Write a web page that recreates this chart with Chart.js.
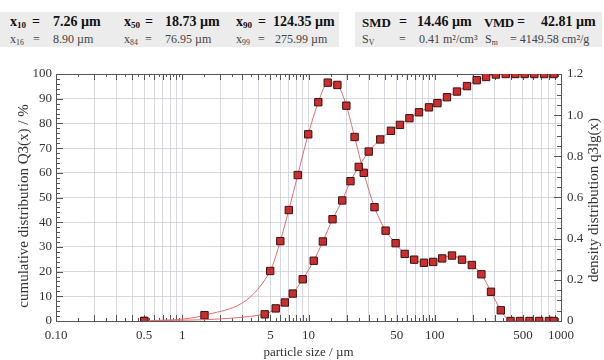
<!DOCTYPE html>
<html>
<head>
<meta charset="utf-8">
<script src="https://cdn.jsdelivr.net/npm/chart.js@4.4.0/dist/chart.umd.min.js"></script>
<style>
  body { margin: 0; background: #fff; }
  #wrap { position: relative; width: 604px; height: 360px; font-family: "Liberation Serif", "Times New Roman", serif; }
  canvas { position: absolute; left: 0; top: 0; }
  .box { position: absolute; top: 12px; height: 35px; background: #ececec; }
  .t { position: absolute; line-height: 1; white-space: nowrap; }
  .r1 { top: 15px; font-size: 14px; font-weight: bold; color: #111; }
  .r2 { top: 33px; font-size: 12px; color: #444; }
  sub { font-size: 0.65em; vertical-align: -0.25em; line-height: 0; }
</style>
</head>
<body>
<div id="wrap">
  <div class="box" style="left:0;width:339px"></div>
  <div class="box" style="left:355px;width:247px"></div>

  <span class="t r1" style="left:10px">x<sub>10</sub></span>
  <span class="t r1" style="left:32px">=</span>
  <span class="t r1" style="left:53px">7.26 µm</span>
  <span class="t r1" style="left:124px">x<sub>50</sub></span>
  <span class="t r1" style="left:145px">=</span>
  <span class="t r1" style="left:165px">18.73 µm</span>
  <span class="t r1" style="left:236px">x<sub>90</sub></span>
  <span class="t r1" style="left:258px">=</span>
  <span class="t r1" style="left:273px">124.35 µm</span>
  <span class="t r1" style="left:362px;font-size:13px;top:16px">SMD</span>
  <span class="t r1" style="left:399px">=</span>
  <span class="t r1" style="left:417px">14.46 µm</span>
  <span class="t r1" style="left:484px;font-size:13px;top:16px;letter-spacing:-0.5px">VMD</span>
  <span class="t r1" style="left:517px">=</span>
  <span class="t r1" style="left:541px">42.81 µm</span>

  <span class="t r2" style="left:10px">x<sub>16</sub></span>
  <span class="t r2" style="left:33px">=</span>
  <span class="t r2" style="left:53px">8.90 µm</span>
  <span class="t r2" style="left:124px">x<sub>84</sub></span>
  <span class="t r2" style="left:145px">=</span>
  <span class="t r2" style="left:165px">76.95 µm</span>
  <span class="t r2" style="left:236px">x<sub>99</sub></span>
  <span class="t r2" style="left:258px">=</span>
  <span class="t r2" style="left:275px">275.99 µm</span>
  <span class="t r2" style="left:362px">S<sub>V</sub></span>
  <span class="t r2" style="left:399px">=</span>
  <span class="t r2" style="left:419px">0.41 m²/cm³</span>
  <span class="t r2" style="left:485px">S<sub>m</sub></span>
  <span class="t r2" style="left:510px">= 4149.58 cm²/g</span>

  <canvas id="chart" width="604" height="360"></canvas>
</div>

<script>
// cumulative distribution Q3(x), upper class limits in µm
const cumSizes = [0.5, 4.5, 5.5, 6.5, 7.5, 9, 11, 13, 15.5, 18.5, 21.5, 25, 30, 37, 45, 53,
  63, 75, 90, 105, 125, 150, 180, 215, 255, 305, 365, 435, 515, 615, 735, 875];
const cumValues = [0, 2.7, 5.1, 7.5, 11.1, 16.9, 24.4, 32.2, 41.2, 48.8, 56.6, 62.4, 68.6, 73.5, 77.0, 79.4,
  82.1, 84.5, 86.5, 88.2, 90.6, 92.9, 95.1, 97.5, 98.8, 99.8, 100, 100, 100, 100, 100, 100];

// density distribution q3lg(x), class centres in µm
const densSizes = [0.5, 1.5, 4.97, 5.98, 6.98, 8.22, 9.95, 11.96, 14.2, 16.93, 19.94, 23.18, 27.39,
  33.32, 40.8, 48.97, 57.78, 68.73, 82.16, 97.21, 114.56, 136.93, 164.32, 196.72, 234.15, 278.88,
  333.65, 398.44, 473.28, 562.74, 672.3, 802.24, 875];
const densValues = [0, 0.028, 0.243, 0.388, 0.539, 0.709, 0.907, 1.063, 1.158, 1.147, 1.046, 0.894, 0.72,
  0.553, 0.439, 0.378, 0.326, 0.298, 0.283, 0.287, 0.304, 0.318, 0.298, 0.272, 0.227, 0.142,
  0.052, 0, 0, 0, 0, 0, 0];

const xTickLabels = [0.1, 0.5, 1, 5, 10, 50, 100, 500, 1000];
const decades = [0.1, 1, 10, 100];

const gridValues = [];
decades.forEach(d => {
  for (let m = 1; m <= 9; m++) gridValues.push(+(m * d).toPrecision(6));
});
gridValues.push(1000);

const font = '"Liberation Serif", "Times New Roman", serif';
const gridColor = 'rgba(200, 200, 212, 0.7)';
const axisColor = '#555';

const frame = {
  id: 'frame',
  beforeDatasetsDraw(chart) {
    const { ctx, chartArea: a, scales } = chart;
    ctx.save();
    ctx.strokeStyle = axisColor;
    ctx.lineWidth = 1;
    ctx.beginPath();
    ctx.moveTo(a.left, a.top + 0.5);
    ctx.lineTo(a.right, a.top + 0.5);
    decades.forEach(d => {
      for (let m = 1; m < 10; m += 0.5) {
        if (m === 1 && d === 0.1) continue;
        const px = Math.round(scales.x.getPixelForValue(m * d)) + 0.5;
        const len = m % 1 ? 3 : 6;
        ctx.moveTo(px, a.bottom);
        ctx.lineTo(px, a.bottom - len);
        ctx.moveTo(px, a.top);
        ctx.lineTo(px, a.top + len);
      }
    });
    for (let v = 2; v < 100; v += 2) {
      const py = Math.round(scales.y.getPixelForValue(v)) + 0.5;
      ctx.moveTo(a.left, py);
      ctx.lineTo(a.left + (v % 10 ? 4 : 7), py);
    }
    for (let i = 1; i < 24; i++) {
      const py = Math.round(scales.y1.getPixelForValue(i * 0.05)) + 0.5;
      ctx.moveTo(a.right, py);
      ctx.lineTo(a.right - (i % 4 ? 4 : 7), py);
    }
    ctx.stroke();
    ctx.restore();
  },
  afterDraw(chart) {
    const { ctx } = chart;
    ctx.save();
    ctx.fillStyle = '#333';
    ctx.font = '15px ' + font;
    ctx.textAlign = 'center';
    ctx.textBaseline = 'middle';
    ctx.translate(24, 206);
    ctx.rotate(-Math.PI / 2);
    ctx.fillText('cumulative distribution Q3(x) / %', 0, 0);
    ctx.restore();
    ctx.save();
    ctx.fillStyle = '#333';
    ctx.font = '15px ' + font;
    ctx.textAlign = 'center';
    ctx.textBaseline = 'middle';
    ctx.translate(594, 200);
    ctx.rotate(-Math.PI / 2);
    ctx.fillText('density distribution q3lg(x)', 0, 0);
    ctx.restore();
  }
};

const seriesStyle = {
  borderColor: 'rgb(226, 110, 110)',
  borderWidth: 1,
  pointStyle: 'rect',
  pointRadius: 5.2,
  pointBackgroundColor: 'rgb(205, 45, 45)',
  pointBorderColor: 'rgb(55, 20, 20)',
  pointBorderWidth: 1,
  cubicInterpolationMode: 'monotone',
  fill: false
};

new Chart(document.getElementById('chart'), {
  type: 'line',
  data: {
    datasets: [
      {
        ...seriesStyle,
        label: 'Q3(x)',
        yAxisID: 'y',
        data: cumSizes.map((s, i) => ({ x: s, y: cumValues[i] }))
      },
      {
        ...seriesStyle,
        label: 'q3lg(x)',
        yAxisID: 'y1',
        data: densSizes.map((s, i) => ({ x: s, y: densValues[i] }))
      }
    ]
  },
  options: {
    responsive: false,
    animation: false,
    layout: { padding: { top: 74, left: 0, right: 0, bottom: 0 } },
    plugins: {
      legend: { display: false },
      tooltip: { enabled: false }
    },
    scales: {
      x: {
        type: 'logarithmic',
        min: 0.1,
        max: 1000,
        afterBuildTicks: scale => {
          scale.ticks = gridValues.map(v => ({ value: v }));
        },
        afterFit: scale => { scale.height = 39; },
        ticks: {
          autoSkip: false,
          maxRotation: 0,
          padding: 7,
          color: '#333',
          font: { family: font, size: 13 },
          callback: value => {
            if (!xTickLabels.includes(value)) return '';
            return value === 0.1 ? '0.10' : String(value);
          }
        },
        grid: { color: gridColor, drawTicks: false },
        border: { color: axisColor },
        title: {
          display: true,
          text: 'particle size / µm',
          color: '#333',
          font: { family: font, size: 13 },
          padding: { top: 0, bottom: 0 }
        }
      },
      y: {
        position: 'left',
        min: 0,
        max: 100,
        afterFit: scale => { scale.width = 56; },
        ticks: {
          stepSize: 10,
          padding: 4,
          color: '#333',
          font: { family: font, size: 13 }
        },
        grid: { color: gridColor, drawTicks: false },
        border: { color: axisColor }
      },
      y1: {
        position: 'right',
        min: 0,
        max: 1.2,
        afterFit: scale => { scale.width = 43; },
        ticks: {
          stepSize: 0.2,
          padding: 6,
          color: '#333',
          font: { family: font, size: 13 },
          callback: v => (Math.abs(v) < 1e-9 ? '0' : v.toFixed(1))
        },
        grid: { drawOnChartArea: false, drawTicks: false },
        border: { color: axisColor }
      }
    }
  },
  plugins: [frame]
});
</script>
</body>
</html>
